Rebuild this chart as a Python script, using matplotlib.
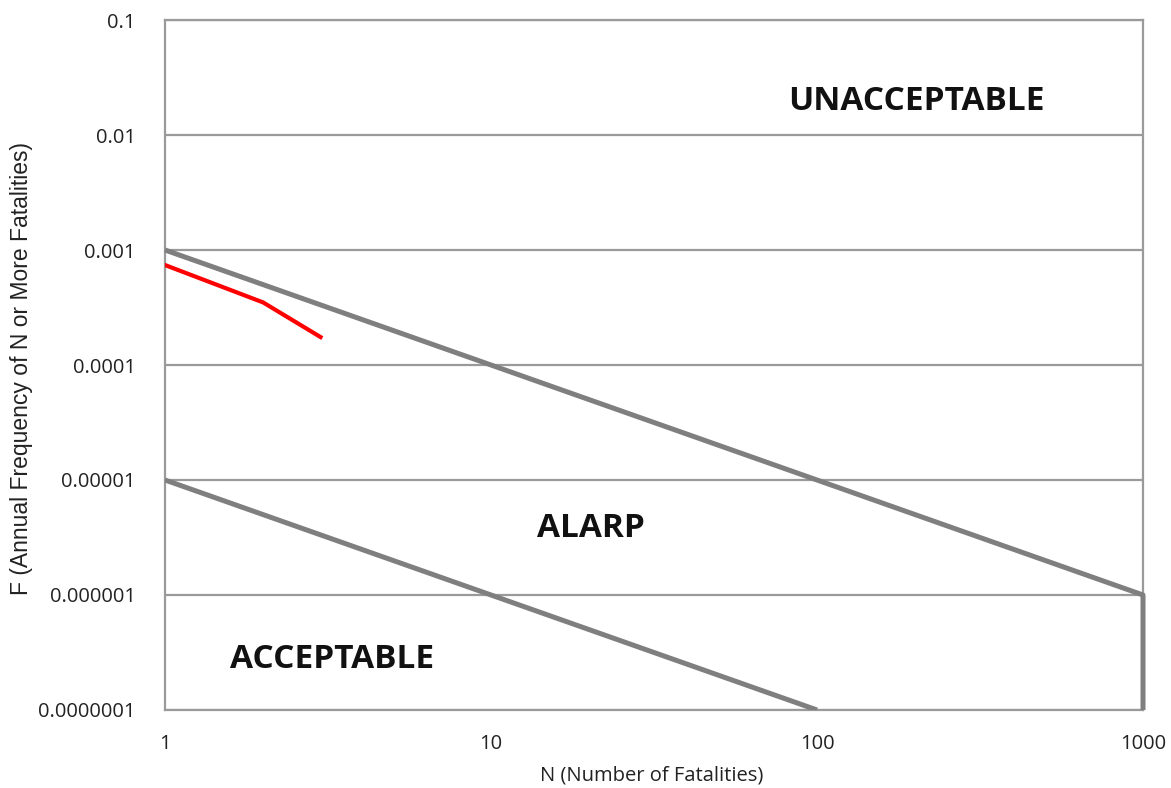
import matplotlib.pyplot as plt

plt.rcParams['font.family'] = ['Open Sans', 'DejaVu Sans']

# F-N criterion lines
upper_n = [1, 1000, 1000]
upper_f = [1e-3, 1e-6, 1e-7]
lower_n = [1, 100]
lower_f = [1e-5, 1e-7]

# societal risk curve
risk_n = [1, 2, 3]
risk_f = [7.4e-4, 3.5e-4, 1.75e-4]

y_ticks = [1e-7, 1e-6, 1e-5, 1e-4, 1e-3, 1e-2, 1e-1]
y_labels = ['0.0000001', '0.000001', '0.00001', '0.0001', '0.001', '0.01', '0.1']
x_ticks = [1, 10, 100, 1000]
x_labels = ['1', '10', '100', '1000']

fig = plt.figure(figsize=(11.71, 7.88), dpi=100)
ax = fig.add_axes([0.1409, 0.0990, 0.8352, 0.8756])

ax.set_xscale('log')
ax.set_yscale('log')
ax.set_xlim(1, 1000)
ax.set_ylim(1e-7, 1e-1)

for y in y_ticks:
    ax.axhline(y, color='#9a9a9a', lw=1.6, zorder=1)

ax.plot(upper_n, upper_f, color='#7f7f7f', lw=3.6, solid_capstyle='butt', clip_on=False, zorder=3)
ax.plot(lower_n, lower_f, color='#7f7f7f', lw=3.6, solid_capstyle='butt', zorder=3)
ax.plot(risk_n, risk_f, color='#ff0000', lw=3.0, zorder=4)

ax.set_yticks(y_ticks)
ax.set_yticklabels(y_labels)
ax.set_xticks(x_ticks)
ax.set_xticklabels(x_labels)
ax.minorticks_off()
ax.tick_params(length=0, labelsize=14.5, colors='#222222')
ax.tick_params(axis='y', pad=21)
ax.tick_params(axis='x', pad=17)

for s in ax.spines.values():
    s.set_color('#9a9a9a')
    s.set_linewidth(1.6)

ax.set_xlabel('N (Number of Fatalities)', fontsize=14.5, color='#222222', va='top')
ax.xaxis.set_label_coords(0.498, -0.081)
ax.set_ylabel('F (Annual Frequency of N or More Fatalities)', fontsize=16.5,
              family=['Liberation Sans', 'DejaVu Sans'], color='#222222')
ax.yaxis.set_label_coords(-0.135, 0.495)

ax.text(0.768, 0.8696, 'UNACCEPTABLE', transform=ax.transAxes, ha='center', va='baseline',
        fontsize=24, fontweight='bold', color='#111111')
ax.text(0.4356, 0.2507, 'ALARP', transform=ax.transAxes, ha='center', va='baseline',
        fontsize=24, fontweight='bold', color='#111111')
ax.text(0.1708, 0.0609, 'ACCEPTABLE', transform=ax.transAxes, ha='center', va='baseline',
        fontsize=24, fontweight='bold', color='#111111')

fig.savefig('out.png', dpi=100)
